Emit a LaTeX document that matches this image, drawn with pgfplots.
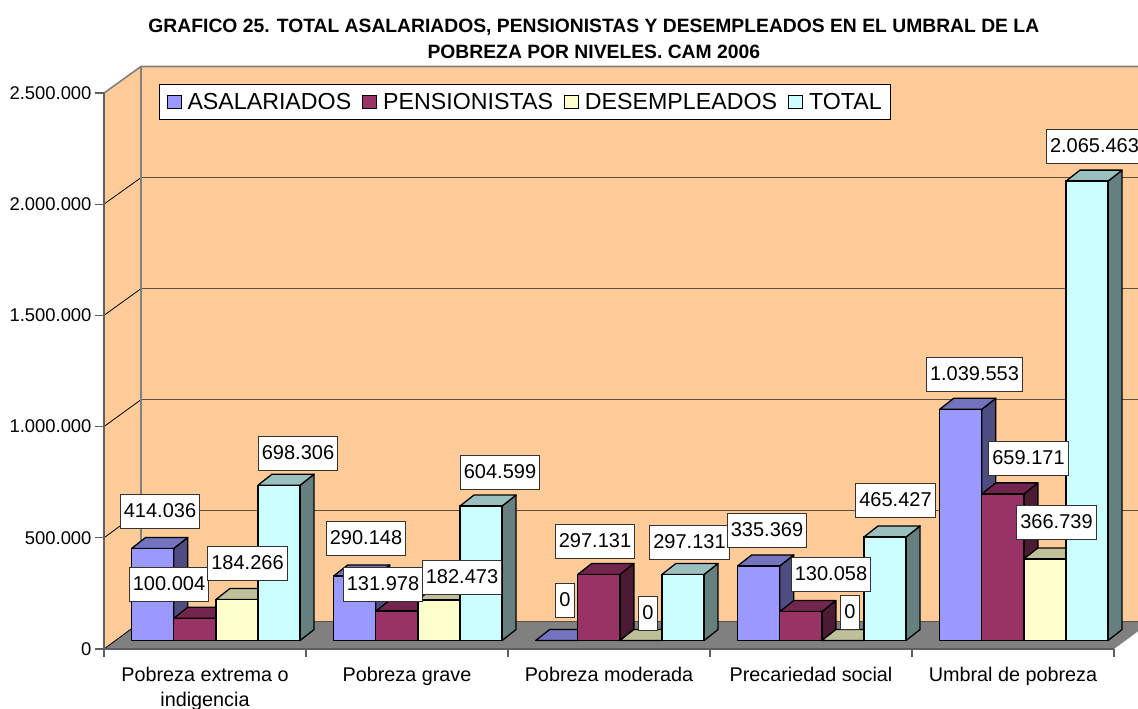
\documentclass[border=0pt]{standalone}
\usepackage{fontspec}
\setmainfont{Liberation Sans}
\usepackage{pgfplots}
\usepackage{pgfplotstable}
\pgfplotsset{compat=1.18}
\definecolor{wall}{HTML}{FFCC99}
\definecolor{floorc}{HTML}{808080}
\definecolor{edgec}{HTML}{808080}
\definecolor{axisc}{HTML}{5F5F5F}
\definecolor{gridc}{HTML}{5A5040}
\definecolor{fa}{HTML}{9999FF}\definecolor{ta}{HTML}{7373BF}\definecolor{sa}{HTML}{4D4D80}
\definecolor{fp}{HTML}{993366}\definecolor{tp}{HTML}{73264D}\definecolor{sp}{HTML}{4D1A33}
\definecolor{fd}{HTML}{FFFFCC}\definecolor{td}{HTML}{BFBF99}\definecolor{sd}{HTML}{808066}
\definecolor{ft}{HTML}{CCFFFF}\definecolor{tt}{HTML}{99BFBF}\definecolor{st}{HTML}{668080}
\pgfplotstableread{
g asal pens desemp total
0 414036 100004 184266 698306
1 290148 131978 182473 604599
2 0 297131 0 297131
3 335369 130058 0 465427
4 1039553 659171 366739 2065463
}\chartdata
% column, slot, front, top, side
\newcommand\seriesbars[5]{%
  \pgfplotsinvokeforeach{0,1,2,3,4}{%
    \pgfplotstablegetelem{##1}{#1}\of\chartdata
    \edef\vv{\pgfplotsretval}%
    \edef\xl{\fpeval{##1-0.5+(27.7+42.1*#2)/202}}%
    \edef\xr{\fpeval{##1-0.5+(27.7+42.1*(#2+1))/202}}%
    \edef\xld{\fpeval{\xl+14/202}}%
    \edef\xrd{\fpeval{\xr+14/202}}%
    \edef\vd{\fpeval{\vv+49460}}%
    \edef\tmp{\noexpand\addplot[forget plot,fill=#5,draw=black,line width=1.3pt,line join=round,yshift=8.5pt] coordinates {(\xr,0) (\xrd,49460) (\xrd,\vd) (\xr,\vv)} -- cycle;
      \noexpand\addplot[forget plot,fill=#4,draw=black,line width=1.3pt,line join=round,yshift=8.5pt] coordinates {(\xl,\vv) (\xld,\vd) (\xrd,\vd) (\xr,\vv)} -- cycle;}%
    \tmp
  }%
  \addplot[ybar,bar width=42.1pt,bar shift={\fpeval{27.7+42.1*(#2+0.5)-101}pt},fill=#3,draw=black,line width=1.3pt,yshift=8.5pt] table[x=g,y=#1]{\chartdata};
}
\newcommand\lab[3]{\node[fill=white,draw=black!80,line width=0.9pt,font=\fontsize{20}{24}\selectfont,minimum height=34pt,inner xsep=3.5pt,inner ysep=0pt] at ({(#1-104)*1pt},{(649-#2)*1pt}) {#3};}
\begin{document}
\begin{tikzpicture}
\path[use as bounding box] (-104pt,-60pt) rectangle (1034pt,649pt);
% walls and floor
\fill[wall] (0pt,0pt) -- (0pt,556pt) -- (37pt,582.5pt) -- (1047pt,582.5pt) -- (1047pt,27.3pt) -- (37pt,27.3pt) -- cycle;
\fill[floorc] (0pt,0pt) -- (1010pt,0pt) -- (1047pt,27.3pt) -- (37pt,27.3pt) -- cycle;
\foreach \gy in {0,111,222,333,444}{
  \draw[gridc,line width=1pt] (37pt,{(27.3+\gy)*1pt}) -- (1047pt,{(27.3+\gy)*1pt});
  \draw[black,line width=0.8pt] (0pt,{\gy*1.002pt}) -- (37pt,{(27.3+\gy)*1pt});
}
\draw[edgec,line width=1.6pt] (0pt,556pt) -- (37pt,582.5pt) -- (1047pt,582.5pt);
\draw[edgec,line width=1.3pt] (37pt,27.3pt) -- (37pt,582.5pt);
\begin{axis}[
  scale only axis, width=1010pt, height=556pt,
  xmin=-0.5, xmax=4.5, ymin=0, ymax=2500000,
  clip=false, axis lines*=left,
  axis line style={axisc,line width=1.5pt},
  xtick={0,1,2,3,4},
  xticklabels={{Pobreza extrema o\\indigencia},{Pobreza grave},{Pobreza moderada},{Precariedad social},{Umbral de pobreza}},
  x tick label style={align=center,yshift=-6pt,font=\fontsize{19.8}{25}\selectfont},
  major x tick style={draw=none},
  minor xtick={-0.5,0.5,1.5,2.5,3.5,4.5},
  minor tick length=8pt, major tick length=9pt,
  minor x tick style={axisc,line width=1.2pt},
  ytick={0,500000,1000000,1500000,2000000,2500000},
  y tick style={axisc,line width=1.2pt},
  tick align=outside,
  scaled y ticks=false,
  y tick label style={font=\fontsize{18.4}{22}\selectfont,/pgf/number format/.cd,fixed,precision=0,1000 sep={.},assume math mode=true},
  title={GRAFICO 25. TOTAL ASALARIADOS, PENSIONISTAS Y DESEMPLEADOS EN EL UMBRAL DE LA\\POBREZA POR NIVELES. CAM 2006},
  title style={at={(0.485,1.05)},anchor=south,align=center,font=\bfseries\fontsize{19.3}{26}\selectfont,inner sep=0pt},
  legend columns=4,
  legend style={at={(0.05446,1.0162)},anchor=north west,draw=black,line width=1pt,fill=white,font=\fontsize{23.2}{26}\selectfont,inner xsep=7pt,inner ysep=6.5pt,/tikz/every even column/.append style={column sep=9pt},/tikz/every odd column/.append style={column sep=4pt}},
  legend image code/.code={\coordinate (legl) at (0pt,0pt);\draw[#1,yshift=-8.5pt,line width=1pt] (5pt,-6.5pt) rectangle (19pt,6.5pt);},
]
\seriesbars{asal}{0}{fa}{ta}{sa}
\seriesbars{pens}{1}{fp}{tp}{sp}
\seriesbars{desemp}{2}{fd}{td}{sd}
\seriesbars{total}{3}{ft}{tt}{st}
\legend{ASALARIADOS,PENSIONISTAS,DESEMPLEADOS,TOTAL}
\end{axis}
\lab{160}{511}{414.036}
\lab{169}{584}{100.004}
\lab{247.5}{563}{184.266}
\lab{298}{453}{698.306}
\lab{366}{538}{290.148}
\lab{383}{584}{131.978}
\lab{462}{577}{182.473}
\lab{500}{472}{604.599}
\lab{565}{600}{0}
\lab{595}{541}{297.131}
\lab{648}{613}{0}
\lab{689.5}{542}{297.131}
\lab{767}{530}{335.369}
\lab{831}{574}{130.058}
\lab{850}{612}{0}
\lab{895.5}{500}{465.427}
\lab{974.5}{374}{1.039.553}
\lab{1028.5}{458}{659.171}
\lab{1056.5}{522}{366.739}
\lab{1094.5}{146}{2.065.463}
\end{tikzpicture}
\end{document}
